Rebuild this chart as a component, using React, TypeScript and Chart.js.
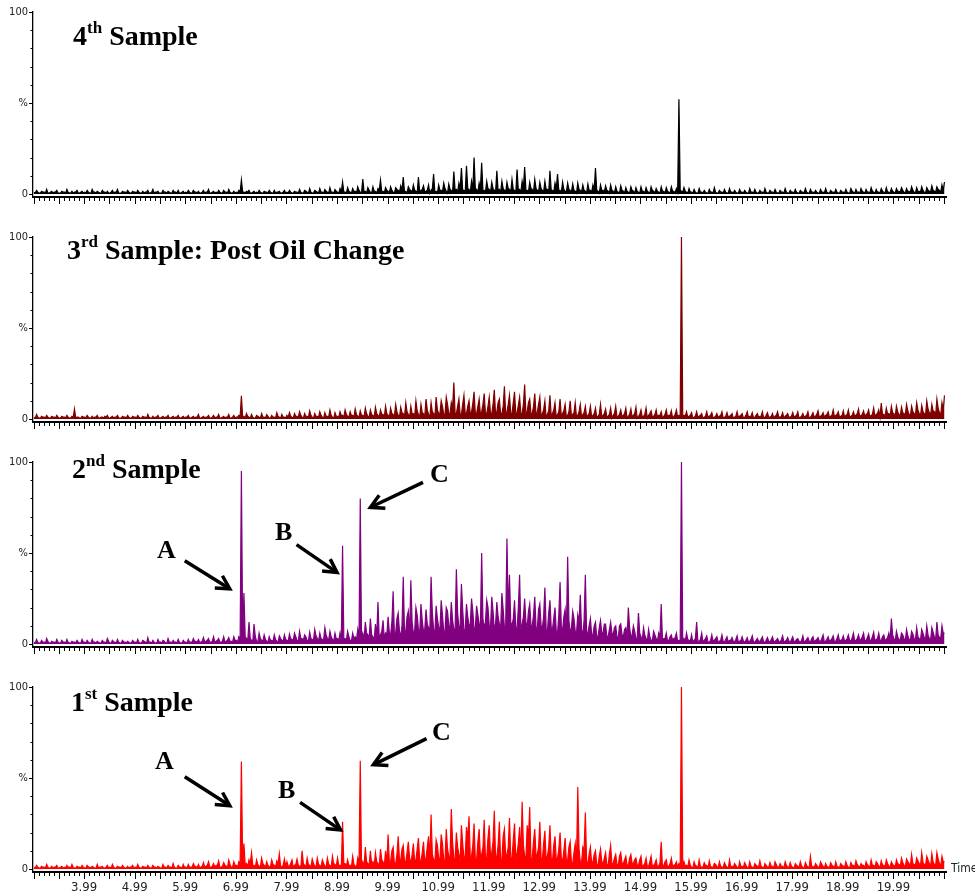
import React, { useEffect, useRef } from "react";
import { Chart, registerables } from "chart.js";

Chart.register(...registerables);

// ---- scan axis ----
const SCAN_START = 3.0;
const SCAN_STEP = 0.05; // even scans at 3.000, 3.050 ...; odd scans half a step later
const X_MIN = 2.98;
const X_MAX = 21.03;
const Y_MIN = -1.65;
const Y_MAX = 100;
const X_TICK_LABELS = [3.99, 4.99, 5.99, 6.99, 7.99, 8.99, 9.99, 10.99, 11.99, 12.99, 13.99, 14.99, 15.99, 16.99, 17.99, 18.99, 19.99];
const Y_TICK_VALUES = [0, 50, 100];
const Y_TICK_TEXT = ["0", "%", "100"];
const X_MINOR_TICK_START = 2.99;
const X_MINOR_TICK_STEP = 0.1;
const Y_MINOR_TICK_STEP = 10;

// ---- intensities (%) ----
// *_EVEN: scans at 3.000, 3.050, ... 21.000 min; *_ODD: scans at 3.025, 3.075, ... 20.975 min
const SAMPLE_4_EVEN = [
  1,2,0.5,1.5,1, 2.5,0.5,1.5,1,2, 0.5,1.5,1,2.5,0.5, 1.5,1,2,0.5,1.5,
  1,2,0.5,2.5,1, 1.5,0.5,2,1,1.5, 0.5,2,1,2.5,0.5, 1.5,1,2,0.5,1.5,
  1,2,0.5,1.5,1, 2,0.5,2.5,1,1.5, 0.5,2,1,1.5,0.5, 2,1,2,0.5,1.5,
  1,2,0.5,2,1, 1.5,0.5,2,1,2.5, 0.5,1.5,1,2,0.5, 2,1,2.5,0.5,1.5,
  1,2,7.7,1,1.5, 2,0.5,1.5,1,2, 0.5,1.5,1,2,0.5, 2,1,1.5,0.5,2,
  1,2,0.5,1.5,1, 2.5,0.5,2,1,3, 0.5,2,1,3,1, 2.5,1,3.5,1,2.5,
  1,3,6.6,1,3.5, 1,3,1.5,4,1, 8.2,1.5,3.5,1,4, 1.5,3,7.7,1.5,3.5,
  1.5,4,1,3.5,2, 4.5,9.3,1.5,4,2, 5,1.5,9.3,2,4.5, 1.5,5,2,11,1.5,
  5,2,6,1.5,5.5, 2,12.4,2.5,6,14.3, 2,15.5,2.5,7,20, 2.5,6,17.2,2,7,
  2.5,6.5,2,12.8,2.5, 7,2,6.5,2.5,8, 2,13.4,2.5,7,14.8, 2,6.5,2.5,8,2,
  6.5,2,7,2.5,12.8, 2,6,11,2,6.5, 1.5,6,2,5.5,1.5, 6,2,5,1.5,5.5,
  2,5,14.3,1.5,5, 2,4.5,1.5,5,1.5, 4,1,4.5,1.5,3.5, 1,4,1.5,3.5,1,
  4,1.5,3.5,1,4, 1.5,3,1,4,1.5, 3.5,1,4,1.5,3, 52,1.5,3.5,1,3,
  1,2.5,0.5,3,1, 2,0.5,2.5,1,3.5, 0.5,2,1,2.5,0.5, 3,1,2,0.5,2.5,
  1,2,0.5,3,1, 2.5,0.5,2,1,3, 0.5,2,1,2.5,0.5, 2,1,3,0.5,2,
  1,2.5,0.5,2,1, 3,0.5,2.5,1,2, 0.5,2.5,1,3,0.5, 2,1,2.5,0.5,2,
  1,2.5,0.5,3,1, 2.5,1,3,1,2.5, 1,3.5,1,2.5,1, 3,1,3.5,1,3,
  1,3,1.5,3.5,1, 3,1.5,4,1,3.5, 1.5,4,1,3.5,1.5, 4.5,1.5,4,2,5,
  6.6,
];
const SAMPLE_4_ODD = [
  0.5,1,0.5,1,0.5, 0.5,1,0.5,1,0.5, 0.5,1,0.5,1,0.5, 0.5,1,0.5,1,0.5,
  0.5,1,0.5,1,0.5, 1,0.5,1,0.5,0.5, 1,0.5,1,0.5,0.5, 1,0.5,1,0.5,1,
  0.5,1,0.5,0.5,1, 0.5,1,0.5,1,0.5, 0.5,1,0.5,1,0.5, 1,0.5,0.5,1,0.5,
  0.5,1,0.5,1,0.5, 0.5,1,0.5,1,0.5, 1,0.5,0.5,1,0.5, 1,0.5,1,0.5,0.5,
  0.5,1,1,0.5,1, 0.5,1,0.5,0.5,1, 0.5,1,0.5,1,0.5, 0.5,1,0.5,1,0.5,
  0.5,1,0.5,1,0.5, 1,0.5,1.5,0.5,1, 0.5,1.5,0.5,1,0.5, 1.5,0.5,1,0.5,1.5,
  0.5,1,1,0.5,1.5, 0.5,1.5,0.5,2,0.5, 1,0.5,2,0.5,1.5, 0.5,2,1,0.5,2,
  0.5,2,0.5,2.5,1, 2,1,0.5,2.5,1, 2,0.5,1,2.5,1, 2,0.5,3,1,0.5,
  2,1,3,0.5,2.5, 1,2,1,3,2, 1,3,1,2.5,3, 1,3,2,1,3,
  1,3,1,2,1, 3,1,3,1,2.5, 1,2,1,3,2, 1,3,1,3,1,
  3,1,2.5,1,2, 1,3,2,1,2.5, 1,2.5,1,2,0.5, 2.5,1,2,0.5,2,
  1,2,2,0.5,2, 1,2,0.5,2,0.5, 1.5,0.5,2,0.5,1.5, 0.5,2,0.5,1.5,0.5,
  1.5,0.5,1.5,0.5,2, 0.5,1.5,0.5,1.5,0.5, 1.5,0.5,1.5,0.5,1, 2,1,1.5,0.5,1,
  0.5,1,0.5,1,0.5, 1,0.5,1,0.5,1, 0.5,1,0.5,1,0.5, 1,0.5,1,0.5,1,
  0.5,1,0.5,1,0.5, 1,0.5,1,0.5,1, 0.5,1,0.5,1,0.5, 1,0.5,1,0.5,1,
  0.5,1,0.5,1,0.5, 1,0.5,1,0.5,1, 0.5,1,0.5,1,0.5, 1,0.5,1,0.5,1,
  0.5,1,0.5,1.5,0.5, 1,0.5,1.5,0.5,1, 0.5,1.5,0.5,1,0.5, 1.5,0.5,1,0.5,1.5,
  0.5,1.5,1,2,0.5, 1.5,1,2,0.5,1.5, 1,2,0.5,2,1, 2,1,2.5,1,2,
];

const SAMPLE_3_EVEN = [
  1,2.5,0.5,1.5,1, 2,0.5,1.5,1,2, 0.5,1.5,1,2,0.5, 1.5,5.5,1,0.5,1.5,
  1,2,0.5,1.5,1, 2,0.5,1,1.5,2, 0.5,1.5,1,2,0.5, 1.5,1,2,0.5,1.5,
  1,2,0.5,1.5,1, 2.5,0.5,1.5,1,2, 0.5,1.5,1,2,0.5, 1.5,1,2,0.5,1.5,
  1,2,0.5,1.5,1, 2.5,0.5,1.5,1,2, 0.5,2,1,2.5,0.5, 1.5,1,2.5,0.5,2,
  1,2,12.8,1.5,3, 1,2.5,0.5,2,1, 3,1,2.5,0.5,2, 1,3.5,1,2.5,1,
  2,3.5,1,3,1.5, 4,1,3,1.5,4.5, 1,3,1.5,4,1, 3.5,1.5,5,1,3.5,
  1.5,4,2,5,1.5, 4,2,5.5,1.5,4.5, 2,6,1.5,5,2, 6.5,2,5,2.5,7,
  2,6,2.5,8,2, 6.5,3,9,2.5,7, 3,10,2.5,8,3, 11,2.5,9,3,12,
  3,10,2.5,12,3, 9,20,3,11,2.5, 13,3,10,4,15, 3,11,4,14,3,
  12,3,16,4,11, 3,18,4,13,3, 15,3.5,12,3,19, 4,11,3,14,3.5,
  12,3,10,2.5,13, 3,9,2.5,11,3, 8,2,10,2.5,9, 2,8,2.5,7,2,
  7,2,6,1.5,8, 2,5.5,1.5,6,2, 7,1.5,5,2,6, 1.5,5.5,2,6.5,1.5,
  5,1.5,6,2,4.5, 1.5,5,2,4,1.5, 5,2,4.5,1.5,5, 2,100,2,4,1.5,
  3.5,1,4,1.5,3, 1,4,1.5,3.5,1, 3,1.5,4,1,3.5, 1.5,3,1,4,1.5,
  3,1,4,1.5,3.5, 1,3,1.5,4,1, 3.5,1,3,1.5,4, 1,3.5,1.5,3,1,
  3.5,1.5,4,1,3, 1.5,4,1,3.5,1.5, 4.5,1.5,3.5,2,4, 1.5,5,2,4,1.5,
  4.5,2,5,1.5,4, 2,5.5,2,4.5,2.5, 5,2,6,2.5,5, 8.8,2.5,6,3,7,
  3,7,2.5,6.5,3, 8,2.5,7,3,9, 3,7.5,3,10,3.5, 8,4,11,3.5,9,
  13,
];
const SAMPLE_3_ODD = [
  0.5,1,0.5,1,0.5, 1,0.5,1,0.5,1, 0.5,1,0.5,1,0.5, 1,0.5,1,0.5,1,
  0.5,1,0.5,0.5,1, 0.5,1,0.5,1,0.5, 1,0.5,1,0.5,0.5, 1,0.5,1,0.5,1,
  0.5,1,0.5,1,0.5, 1,0.5,0.5,1,0.5, 1,0.5,1,0.5,1, 0.5,1,0.5,1,0.5,
  1,0.5,1,0.5,1, 0.5,1,0.5,1,0.5, 1,0.5,1,0.5,1, 0.5,1,0.5,1,0.5,
  1,1.5,1,0.5,1.5, 0.5,1,0.5,1.5,0.5, 1,0.5,1.5,0.5,1, 0.5,1.5,0.5,1,0.5,
  1,1.5,0.5,1.5,1, 2,0.5,1.5,1,2, 0.5,1.5,1,2,0.5, 1.5,1,2,0.5,1.5,
  1,2,1,2.5,1, 2,1,2.5,1,2, 1,3,1,2.5,1, 3,1,2.5,1,3,
  1,3,1.5,4,1, 3.5,1.5,4,1,3, 1.5,4.5,1,3.5,1.5, 5,1,4,1.5,5,
  3,7,2.5,8,3, 6,3,7,2.5,8, 3,7,2.5,8.5,3, 7,2.5,8,3,7,
  3,8,2.5,9,3, 7,2.5,8,3,9, 2.5,7.5,3,8,2.5, 9,3,7,2.5,8,
  1.5,5,1,4.5,1.5, 5,1,4,1.5,4.5, 1,4,1.5,3.5,1, 4,1,3.5,1,3,
  1,3,1,2.5,1, 3,1,2.5,0.5,3, 1,2.5,1,3,0.5, 2.5,1,3,0.5,2.5,
  1,2.5,0.5,3,1, 2.5,1,2,0.5,2.5, 1,2,0.5,2.5,1, 2,1.5,1.5,1,2,
  0.5,1.5,1,2,0.5, 1.5,1,2,0.5,1.5, 1,2,0.5,1.5,1, 2,0.5,1.5,1,2,
  0.5,2,1,1.5,0.5, 2,1,1.5,0.5,2, 1,1.5,0.5,2,1, 1.5,0.5,2,1,1.5,
  1,2,0.5,1.5,1, 2,0.5,2,1,2.5, 1,2,1,2.5,1, 2,1,2.5,1,2,
  1,2.5,1,2,1.5, 3,1,2.5,1.5,3, 1,2.5,1.5,3,1, 2.5,1.5,3,1.5,3.5,
  1.5,4,1.5,3.5,2, 4.5,1.5,4,2,5, 1.5,4,2,5.5,2, 4.5,2,6,2,5,
];

const SAMPLE_2_EVEN = [
  1,2.5,0.5,2,1, 3,0.5,1.5,1,2.5, 0.5,2,1,2.5,0.5, 1.5,1,2,0.5,2.5,
  1,2,0.5,2.5,1, 1.5,0.5,2,1,3, 0.5,2,1,2.5,0.5, 2,1,1.5,0.5,2,
  1,2.5,0.5,2,1, 3.5,1,2,0.5,2.5, 1,2,0.5,3,1, 2,1,2.5,0.5,2,
  1,2.5,1,3,1.5, 2.5,1,3.5,1.5,3, 1,4,1.5,3,1, 4,1.5,3.5,1.5,4,
  2,4,95,28,3, 12,2,11,1.5,6, 2,5,1.5,4,2, 5,1.5,4.5,2,5,
  2,5.5,2.5,6,2, 7,3,5,2,6.5, 2.5,8,3,6,2.5, 9,3,7,2.5,6,
  3,6,54,3,7, 2,6,4,8,80, 6,12,5,14,4, 11,23,5,13,6,
  15,5,29,6,17, 4,37,7,18,35, 6,20,8,22,7, 19,9,37,8,21,
  9,24,7,20,10, 23,8,41,9,33, 7,22,10,25,8, 21,11,50,9,24,
  10,26,8,23,11, 28,9,58,38,10, 24,8,38,11,25, 9,22,10,26,8,
  22,9,31,7,24, 8,20,6,34,8, 19,48,6,18,7, 16,27,5,38,6,
  14,5,12,4,13, 6,11,4,12,5, 10,3,11,4,9, 20,4,10,3,17,
  4,9,3,8,2, 7,3,6,22,3, 6,2,5,3,6, 2,100,3,6,2,
  5,2,12,1.5,6, 2,4.5,1,5,2, 4,1.5,5,1,4, 2,3.5,1,4.5,1.5,
  4,1,3.5,1.5,4.5, 1,3,1.5,4,1, 3.5,1,4,1.5,3, 1,4.5,1.5,3.5,1,
  4,1.5,3,1,4.5, 1.5,3.5,1,4,2, 3.5,1.5,5,1.5,4, 2,4.5,1.5,5,2,
  4.5,2,5,1.5,6, 2,5,2.5,6,2, 5.5,2,6.5,2.5,6, 2,5,2.5,6,14,
  3,7,2.5,6,3, 8,2.5,7,3,9, 3,8,3.5,10,3, 9,4,12,3.5,10,
  6,
];
const SAMPLE_2_ODD = [
  0.5,1,0.5,1,0.5, 1.5,0.5,1,0.5,1, 0.5,1,0.5,1,0.5, 1,0.5,1,0.5,1,
  0.5,1,0.5,1,0.5, 1,0.5,1,0.5,1.5, 0.5,1,0.5,1,0.5, 1,0.5,1,0.5,1,
  0.5,1,0.5,1.5,0.5, 1,0.5,1,0.5,1, 0.5,1.5,0.5,1,0.5, 1,0.5,1,0.5,1,
  0.5,1,1,1.5,1, 1,1.5,1,2,1, 1.5,1,2,1,1.5, 1,2,1.5,1,2,
  1,3,6,4,2, 3,1.5,4,1,3, 1.5,2.5,1,2,1.5, 2.5,1,3,1.5,2.5,
  1.5,3,2,4,1.5, 3,2,4,1.5,3, 2,4.5,1.5,3,2, 5,2,4,1.5,3,
  2,1.5,3,2,4, 1.5,3,2,3,3, 2.5,6,3,5,2, 4,3,7,3,5,
  6,12,5,14,7, 10,6,15,5,12, 7,16,6,13,8, 11,7,17,6,14,
  8,16,7,18,9, 13,8,17,10,19, 8,15,11,18,9, 16,10,14,12,20,
  9,18,11,15,8, 19,10,16,12,14, 9,20,8,15,12, 18,10,16,9,19,
  10,15,8,17,9, 14,7,16,9,15, 7,13,9,14,6, 12,8,13,6,10,
  5,10,4,9,6, 11,4,8,6,9, 4,10,5,8,4, 9,5,7,3,6,
  2,5,1.5,4,2, 5,1.5,4,2,3, 1.5,4,2,3.5,1.5, 2,2,1.5,2.5,1.5,
  1,3,1.5,2.5,1, 3,1,2,1.5,3, 1,2,1.5,2.5,1, 2,1.5,2.5,1,2,
  1.5,2,1,2.5,1, 2,1.5,2.5,1,2, 1.5,2.5,1,2,1.5, 2.5,1,2,1.5,2.5,
  1,2.5,1.5,2,1, 2.5,1.5,3,1,2.5, 1.5,3,1,2.5,1.5, 3,1,3,1.5,2.5,
  1.5,3,2,3.5,1.5, 3,2,4,1.5,3.5, 2,4,1.5,3,2, 4,2,3.5,2,5,
  1.5,4,2,5,1.5, 4.5,2,5.5,2,4, 2,6,2.5,5,2, 6.5,2.5,5,3,6,
];

const SAMPLE_1_EVEN = [
  1,2,0.5,1.5,1, 2.5,0.5,1.5,1,2, 0.5,1.5,1,2,1, 2.5,0.5,1.5,1,2,
  0.5,2,1,1.5,0.5, 2.5,1,1.5,0.5,2, 1,2.5,0.5,1.5,1, 2,0.5,1.5,1,2,
  1,2.5,0.5,1.5,1, 2,0.5,2,1,1.5, 0.5,2.5,1,2,1, 3,0.5,2,1,2.5,
  1,2.5,1,3,1.5, 2.5,1,3.5,1.5,4, 1,3,2,4.5,1, 3.5,1.5,5,1,4,
  2,4,59,14,3, 5,9,2,5,1.5, 6,2,4,1,5, 2,4.5,8.5,1,5.5,
  4,1.5,5,2,5.5, 1.5,10,2,6,2, 5.5,1.5,6,2,5, 1.5,6,2,7,2.5,
  6,2,26,3,5, 2,7,1.5,6,59.5, 4,12,3,10,4, 9,3,11,4,10,
  19,4,12,3,18, 5,13,4,15,3, 14,5,17,4,15, 6,18,30,5,16,
  6,19,5,22,7, 33,6,20,8,24, 6,23,29,7,25, 5,22,8,27,6,
  24,9,32,7,26, 5,22,8,28,6, 25,9,23,37,7, 24,34,6,22,8,
  26,5,21,7,24, 4,18,6,20,4, 17,5,15,3,14, 45,4,12,31,3,
  12,4,10,2,11, 3,9,2,13,3, 8,2,9,3,7, 2,8,3,6,2,
  7,2,6,1.5,7, 2,5,1.5,15,2, 5,1.5,6,2,4, 3,100,4,2,5,
  1,4,1.5,5,1, 3.5,2,4.5,1,3, 1.5,4,1,3.5,1, 5,1.5,3,1,4,
  1.5,3.5,1,4,1, 3,1.5,4.5,1,3, 1,3.5,1.5,4,1, 3,1.5,4,1,3.5,
  1,3,1.5,4,1, 3.5,1,7,1.5,3, 1,4,1.5,3,1, 3.5,1.5,4,1,3,
  1.5,4,1,3.5,2, 4.5,1.5,3,2,4, 1.5,5,2,4,1.5, 4.5,2,5,1.5,4,
  2,5,2.5,6,2, 5.5,3,8,2.5,6, 3,9,2.5,7,3, 8.5,2.5,9,3,7,
  4,
];
const SAMPLE_1_ODD = [
  0.5,1,0.5,1,0.5, 1,0.5,0.5,1,0.5, 1,0.5,0.5,1,0.5, 1,0.5,1,0.5,1,
  0.5,1,0.5,1,0.5, 0.5,1,0.5,1,0.5, 0.5,1,0.5,1,0.5, 1,0.5,0.5,1,0.5,
  0.5,1,0.5,1,0.5, 1,0.5,1,0.5,1, 0.5,1,0.5,1,0.5, 1,0.5,1,0.5,1,
  0.5,1,1,1.5,0.5, 1,1.5,1,2,1, 1.5,1,2,1,1.5, 2,1,2.5,1,2,
  1,3,4,2,1.5, 3,2,1,2.5,1, 3,1,2,1.5,2.5, 1,3,1.5,2,1.5,
  1.5,3,1,2.5,2, 1,3,1,2.5,1, 3,1,2.5,1,3, 1,2.5,1,3,1.5,
  2,1,3,1.5,2, 1,2.5,1,3,2, 1.5,4,2,3,1.5, 4,2,5,1.5,3,
  4,10,3,8,5, 11,4,9,6,8, 4,11,5,9,4, 12,5,8,4,13,
  5,14,4,11,7, 15,5,12,4,14, 7,16,6,13,5, 15,7,12,6,17,
  7,15,6,13,5, 18,7,12,6,16, 5,14,7,13,6, 17,5,15,7,12,
  6,14,5,12,6, 13,5,11,6,10, 4,12,3.5,9,4, 11,3.5,10,4,8,
  3,8,2.5,7,4, 6,2.5,8,3,6, 2.5,7,3,5,2, 6,3,5,2,5,
  1,3,1.5,4,1, 3,1,3.5,1,4, 1,3,1.5,2.5,1, 2,1.5,1.5,1,2,
  0.5,2,0.5,1.5,1, 2,0.5,1.5,1,2.5, 0.5,1.5,1,2,0.5, 1.5,1,2,0.5,1.5,
  1,2,0.5,1.5,0.5, 2,1,1.5,0.5,2, 1,1.5,0.5,2.5,1, 1.5,0.5,2,1,1.5,
  0.5,2,1,1.5,0.5, 2,1,1.5,0.5,2, 1,2.5,0.5,1.5,1, 2,0.5,1.5,1,2,
  1,2,0.5,2,1, 2.5,1,2,0.5,2.5, 1,2,1,3,1, 2,1,3,1,2.5,
  1,3,1.5,3.5,1, 4,1.5,3,2,4.5, 1.5,3.5,2,5,1.5, 4,2,5.5,1.5,4,
];

// ---- annotation arrows (data coordinates: [time, %]) ----
type Arrow = { from: [number, number]; to: [number, number] };
const ARROWS_SAMPLE_2: Arrow[] = [
  { from: [5.98, 45.8], to: [6.87, 30.3] },
  { from: [8.19, 54.6], to: [8.99, 39.3] },
  { from: [10.69, 88.8], to: [9.65, 75.1] },
];
const ARROWS_SAMPLE_1: Arrow[] = [
  { from: [5.98, 50.7], to: [6.87, 34.8] },
  { from: [8.26, 36.6], to: [9.06, 21.4] },
  { from: [10.76, 71.6], to: [9.71, 57.3] },
];

const TICK_FONT_FAMILY = '"Liberation Sans Narrow", "DejaVu Sans Condensed", "Liberation Sans", Arial, sans-serif';
const TITLE_FONT_FAMILY = '"Liberation Serif", "Times New Roman", serif';

function buildScans(even: number[], odd: number[]) {
  const pts: { x: number; y: number }[] = [];
  for (let i = 0; i < even.length; i++) {
    pts.push({ x: SCAN_START + i * SCAN_STEP, y: even[i] });
    if (i < odd.length) pts.push({ x: SCAN_START + (i + 0.5) * SCAN_STEP, y: odd[i] });
  }
  return pts;
}

const tickMarksPlugin = {
  id: "tickMarks",
  afterDraw(chart: any) {
    const { ctx, chartArea, scales } = chart;
    const x = scales.x;
    const y = scales.y;
    ctx.save();
    ctx.strokeStyle = "#000";
    ctx.lineWidth = 1;
    for (let v = 0; v <= Y_MAX + 0.001; v += Y_MINOR_TICK_STEP) {
      const py = Math.round(y.getPixelForValue(v)) + 0.5;
      const len = v % 50 === 0 ? 4 : 2.5;
      ctx.beginPath();
      ctx.moveTo(chartArea.left - len, py);
      ctx.lineTo(chartArea.left, py);
      ctx.stroke();
    }
    for (let k = 0; ; k++) {
      const t = X_MINOR_TICK_START + k * X_MINOR_TICK_STEP;
      if (t > X_MAX) break;
      if (t < X_MIN) continue;
      const px = Math.round(x.getPixelForValue(t)) + 0.5;
      const len = k % 5 === 0 ? 7 : 4;
      ctx.beginPath();
      ctx.moveTo(px, chartArea.bottom);
      ctx.lineTo(px, chartArea.bottom + len);
      ctx.stroke();
    }
    ctx.restore();
  },
};

const arrowsPlugin = {
  id: "arrows",
  afterDatasetsDraw(chart: any, _args: any, opts: any) {
    const items: Arrow[] = (opts && opts.items) || [];
    if (!items.length) return;
    const { ctx, scales } = chart;
    ctx.save();
    ctx.strokeStyle = "#000";
    ctx.lineWidth = 3.5;
    ctx.lineJoin = "miter";
    ctx.lineCap = "butt";
    for (const a of items) {
      const x1 = scales.x.getPixelForValue(a.from[0]);
      const y1 = scales.y.getPixelForValue(a.from[1]);
      const x2 = scales.x.getPixelForValue(a.to[0]);
      const y2 = scales.y.getPixelForValue(a.to[1]);
      const ang = Math.atan2(y2 - y1, x2 - x1);
      const head = 15;
      const spread = 0.5;
      ctx.beginPath();
      ctx.moveTo(x1, y1);
      ctx.lineTo(x2 - 2 * Math.cos(ang), y2 - 2 * Math.sin(ang));
      ctx.stroke();
      ctx.beginPath();
      ctx.moveTo(x2 - head * Math.cos(ang - spread), y2 - head * Math.sin(ang - spread));
      ctx.lineTo(x2, y2);
      ctx.lineTo(x2 - head * Math.cos(ang + spread), y2 - head * Math.sin(ang + spread));
      ctx.stroke();
    }
    ctx.restore();
  },
};

type PanelProps = {
  top: number;
  xAxisHeight: number;
  even: number[];
  odd: number[];
  color: string;
  showXLabels: boolean;
  arrows: Arrow[];
};

const PAD_TOP = 8;
const PLOT_HEIGHT = 185;

function Panel({ top, xAxisHeight, even, odd, color, showXLabels, arrows }: PanelProps) {
  const ref = useRef<HTMLCanvasElement>(null);
  const height = PAD_TOP + PLOT_HEIGHT + xAxisHeight;
  useEffect(() => {
    if (!ref.current) return;
    const chart = new Chart(ref.current, {
      type: "line",
      data: {
        datasets: [
          {
            data: buildScans(even, odd),
            borderColor: color,
            backgroundColor: color,
            borderWidth: 1.2,
            pointRadius: 0,
            tension: 0,
            fill: { target: "origin" },
          },
        ],
      },
      options: {
        animation: false,
        responsive: false,
        maintainAspectRatio: false,
        events: [],
        layout: { padding: { top: PAD_TOP, right: 29, left: 0, bottom: 0 } },
        plugins: {
          legend: { display: false },
          tooltip: { enabled: false },
          arrows: { items: arrows },
        } as any,
        scales: {
          x: {
            type: "linear",
            min: X_MIN,
            max: X_MAX,
            grid: { display: false, drawTicks: false },
            border: { display: true, color: "#000", width: 2 },
            ticks: {
              display: showXLabels,
              autoSkip: false,
              maxRotation: 0,
              minRotation: 0,
              padding: 8,
              color: "#222",
              font: { family: TICK_FONT_FAMILY, size: 13 },
              callback: (v: any) => Number(v).toFixed(2),
            },
            afterBuildTicks: (axis: any) => {
              axis.ticks = X_TICK_LABELS.map((v) => ({ value: v }));
            },
            afterFit: (axis: any) => {
              axis.height = xAxisHeight;
              axis.paddingLeft = 0;
              axis.paddingRight = 0;
            },
          },
          y: {
            type: "linear",
            min: Y_MIN,
            max: Y_MAX,
            grid: { display: false, drawTicks: false },
            border: { display: true, color: "#000", width: 1.3 },
            ticks: {
              autoSkip: false,
              padding: 5,
              color: "#222",
              font: { family: TICK_FONT_FAMILY, size: 11 },
              callback: (v: any) => {
                const idx = Y_TICK_VALUES.indexOf(Number(v));
                return idx >= 0 ? Y_TICK_TEXT[idx] : "";
              },
            },
            afterBuildTicks: (axis: any) => {
              axis.ticks = Y_TICK_VALUES.map((v) => ({ value: v }));
            },
            afterFit: (axis: any) => {
              axis.width = 33;
              axis.paddingTop = 0;
              axis.paddingBottom = 0;
            },
          },
        },
      } as any,
      plugins: [tickMarksPlugin, arrowsPlugin],
    });
    return () => chart.destroy();
  }, []);
  return (
    <canvas
      ref={ref}
      width={975}
      height={height}
      style={{ position: "absolute", left: 0, top: top - PAD_TOP, width: 975, height }}
    />
  );
}

const PANEL_TOPS = [12, 237, 462, 687];

function Title({ x, y, num, sup, rest }: { x: number; y: number; num: string; sup: string; rest: string }) {
  return (
    <text x={x} y={y} fontFamily={TITLE_FONT_FAMILY} fontWeight="bold" fontSize={28} fill="#000">
      {num}
      <tspan fontSize={17} dy={-12}>{sup}</tspan>
      <tspan dy={12}>{rest}</tspan>
    </text>
  );
}

function Letter({ x, y, t }: { x: number; y: number; t: string }) {
  return (
    <text x={x} y={y} fontFamily={TITLE_FONT_FAMILY} fontWeight="bold" fontSize={26} fill="#000">
      {t}
    </text>
  );
}

export default function App() {
  return (
    <div style={{ position: "absolute", left: 0, top: 0, width: 975, height: 896, background: "#fff", overflow: "hidden" }}>
      <Panel top={PANEL_TOPS[0]} xAxisHeight={12} even={SAMPLE_4_EVEN} odd={SAMPLE_4_ODD} color="#000000" showXLabels={false} arrows={[]} />
      <Panel top={PANEL_TOPS[1]} xAxisHeight={12} even={SAMPLE_3_EVEN} odd={SAMPLE_3_ODD} color="#800000" showXLabels={false} arrows={[]} />
      <Panel top={PANEL_TOPS[2]} xAxisHeight={12} even={SAMPLE_2_EVEN} odd={SAMPLE_2_ODD} color="#800080" showXLabels={false} arrows={ARROWS_SAMPLE_2} />
      <Panel top={PANEL_TOPS[3]} xAxisHeight={24} even={SAMPLE_1_EVEN} odd={SAMPLE_1_ODD} color="#ff0000" showXLabels={true} arrows={ARROWS_SAMPLE_1} />
      <svg width={975} height={896} style={{ position: "absolute", left: 0, top: 0, pointerEvents: "none" }}>
        <Title x={73} y={45} num="4" sup="th" rest=" Sample" />
        <Title x={67} y={259} num="3" sup="rd" rest=" Sample: Post Oil Change" />
        <Title x={72} y={478} num="2" sup="nd" rest=" Sample" />
        <Title x={71} y={711} num="1" sup="st" rest=" Sample" />
        <Letter x={157} y={558} t="A" />
        <Letter x={275} y={540} t="B" />
        <Letter x={430} y={482} t="C" />
        <Letter x={155} y={769} t="A" />
        <Letter x={278} y={798} t="B" />
        <Letter x={432} y={740} t="C" />
        <text x={951} y={872} fontFamily={TICK_FONT_FAMILY} fontSize={12} fill="#222">Time</text>
      </svg>
    </div>
  );
}
